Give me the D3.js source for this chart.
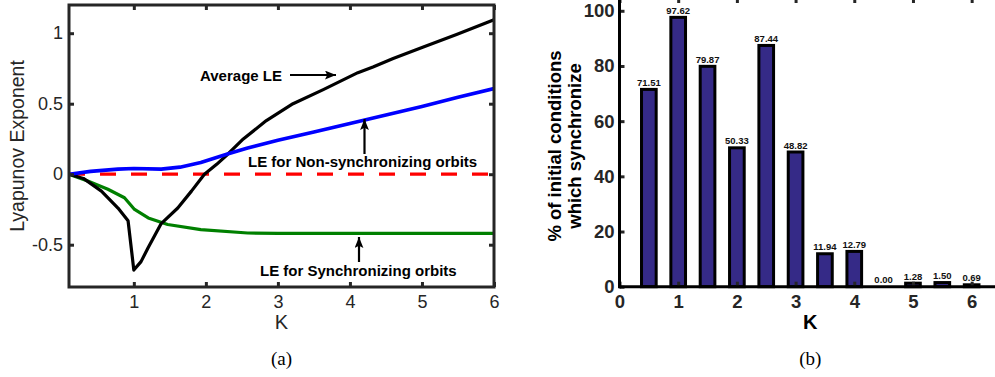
<!DOCTYPE html>
<html>
<head>
<meta charset="utf-8">
<script src="https://cdn.jsdelivr.net/npm/d3@7"></script>
<style>
  html, body { margin: 0; padding: 0; background: #fff; }
  svg { display: block; }
</style>
</head>
<body>
<svg id="fig" width="995" height="377"></svg>
<script>
// ---- Panel (a): Lyapunov exponents vs coupling K ----
const avgK   = [0.1, 0.3, 0.55, 0.78, 0.92, 1.0, 1.1, 1.2, 1.38, 1.61, 1.8, 1.98, 2.15, 2.3, 2.52, 2.84, 3.21, 3.63, 4.11, 4.32, 4.6, 5.01, 5.48, 6.0];
const avgLE  = [0, -0.03, -0.12, -0.24, -0.33, -0.68, -0.62, -0.52, -0.35, -0.24, -0.12, 0.0, 0.07, 0.14, 0.25, 0.38, 0.5, 0.6, 0.72, 0.76, 0.82, 0.9, 0.99, 1.095];
const nonSyncK  = [0.1, 0.4, 0.78, 1.0, 1.38, 1.64, 1.93, 2.3, 2.58, 3.0, 3.5, 4.0, 4.5, 5.0, 5.5, 6.0];
const nonSyncLE = [0, 0.02, 0.036, 0.04, 0.036, 0.05, 0.083, 0.143, 0.186, 0.24, 0.30, 0.36, 0.42, 0.48, 0.545, 0.607];
const syncK  = [0.1, 0.36, 0.64, 0.87, 1.01, 1.2, 1.47, 1.93, 2.58, 3.0, 4.0, 5.0, 6.0];
const syncLE = [0, -0.048, -0.107, -0.167, -0.25, -0.31, -0.357, -0.393, -0.417, -0.42, -0.42, -0.42, -0.42];
const leXTicks = [1, 2, 3, 4, 5, 6];
const leYTicks = [-0.5, 0, 0.5, 1];

// ---- Panel (b): share of initial conditions that synchronize ----
const barK      = [0.5, 1, 1.5, 2, 2.5, 3, 3.5, 4, 4.5, 5, 5.5, 6];
const barPct    = [71.51, 97.62, 79.87, 50.33, 87.44, 48.82, 11.94, 12.79, 0.00, 1.28, 1.50, 0.69];
const pctXTicks = [0, 1, 2, 3, 4, 5, 6];
const pctYTicks = [0, 20, 40, 60, 80, 100];

const axisColor = "#262626";
const sans = "'Liberation Sans', Arial, Helvetica, sans-serif";
const serif = "'Liberation Serif', 'DejaVu Serif', serif";

const svg = d3.select("#fig");
const defs = svg.append("defs");
defs.append("marker")
  .attr("id", "arrowhead")
  .attr("viewBox", "0 0 10 8")
  .attr("refX", 10).attr("refY", 4)
  .attr("markerUnits", "userSpaceOnUse")
  .attr("markerWidth", 11).attr("markerHeight", 9)
  .attr("orient", "auto")
  .append("path").attr("d", "M0,0 L10,4 L0,8 L2,4 Z").attr("fill", "#000");

// ================= Panel (a) =================
const A = { left: 69, right: 494, top: 5, bottom: 287 };
const xA = d3.scaleLinear().domain([0.1, 6]).range([A.left, A.right]);
const yA = d3.scaleLinear().domain([-0.8, 1.2]).range([A.bottom, A.top]);

defs.append("clipPath").attr("id", "clipA")
  .append("rect").attr("x", A.left).attr("y", A.top)
  .attr("width", A.right - A.left).attr("height", A.bottom - A.top);

const gA = svg.append("g");
const plotA = gA.append("g").attr("clip-path", "url(#clipA)");

// zero reference
plotA.append("line")
  .attr("x1", xA(0.1)).attr("x2", xA(6))
  .attr("y1", yA(0)).attr("y2", yA(0))
  .attr("stroke", "#ff0000").attr("stroke-width", 3.2)
  .attr("stroke-dasharray", "16,15");

const lineA = (ks, vs) => d3.line().x((d, i) => xA(ks[i])).y(d => yA(d))(vs);

plotA.append("path").attr("d", lineA(syncK, syncLE))
  .attr("fill", "none").attr("stroke", "#008000").attr("stroke-width", 3.2).attr("stroke-linejoin", "round");
plotA.append("path").attr("d", lineA(avgK, avgLE))
  .attr("fill", "none").attr("stroke", "#000").attr("stroke-width", 3.2).attr("stroke-linejoin", "round");
plotA.append("path").attr("d", lineA(nonSyncK, nonSyncLE))
  .attr("fill", "none").attr("stroke", "#0000ff").attr("stroke-width", 3.6).attr("stroke-linejoin", "round");

// axes with inward ticks on all four sides
function styleAxis(g, fontWeight, fontSize) {
  g.select(".domain").remove();
  g.selectAll(".tick line").attr("stroke", axisColor).attr("stroke-width", 3);
  g.selectAll(".tick text").attr("fill", axisColor)
    .attr("font-family", sans).attr("font-size", fontSize).attr("font-weight", fontWeight);
}
gA.append("g").attr("transform", `translate(0,${A.bottom})`)
  .call(d3.axisBottom(xA).tickValues(leXTicks).tickSize(-5).tickPadding(8).tickFormat(d => String(d)))
  .call(g => styleAxis(g, "normal", 18));
gA.append("g").attr("transform", `translate(0,${A.top})`)
  .call(d3.axisTop(xA).tickValues(leXTicks).tickSize(-5).tickFormat(""))
  .call(g => styleAxis(g, "normal", 18));
gA.append("g").attr("transform", `translate(${A.left},0)`)
  .call(d3.axisLeft(yA).tickValues(leYTicks).tickSize(-5).tickPadding(6).tickFormat(d => String(d)))
  .call(g => styleAxis(g, "normal", 18));
gA.append("g").attr("transform", `translate(${A.right},0)`)
  .call(d3.axisRight(yA).tickValues(leYTicks).tickSize(-5).tickFormat(""))
  .call(g => styleAxis(g, "normal", 18));
gA.append("rect")
  .attr("x", A.left).attr("y", A.top)
  .attr("width", A.right - A.left).attr("height", A.bottom - A.top)
  .attr("fill", "none").attr("stroke", axisColor).attr("stroke-width", 3);

gA.append("text").text("K")
  .attr("x", (A.left + A.right) / 2).attr("y", 329)
  .attr("text-anchor", "middle").attr("font-family", sans).attr("font-size", 20).attr("fill", axisColor);
gA.append("text").text("Lyapunov Exponent")
  .attr("transform", `translate(24,${(A.top + A.bottom) / 2}) rotate(-90)`)
  .attr("text-anchor", "middle").attr("font-family", sans).attr("font-size", 19.5).attr("fill", axisColor);
gA.append("text").text("(a)")
  .attr("x", (A.left + A.right) / 2).attr("y", 365)
  .attr("text-anchor", "middle").attr("font-family", serif).attr("font-size", 19).attr("fill", "#000");

// annotations
const note = (txt, x, y) => gA.append("text").text(txt)
  .attr("x", x).attr("y", y).attr("font-family", sans).attr("font-weight", "bold")
  .attr("font-size", 15).attr("fill", "#000");
const arrow = (x1, y1, x2, y2) => gA.append("line")
  .attr("x1", x1).attr("y1", y1).attr("x2", x2).attr("y2", y2)
  .attr("stroke", "#000").attr("stroke-width", 2.2).attr("marker-end", "url(#arrowhead)");

note("Average LE", 200, 80.5);
arrow(290, 75, 336, 75);
note("LE for Non-synchronizing orbits", 248, 167);
arrow(364.5, 154, 364.5, 119);
note("LE for Synchronizing orbits", 260, 276);
arrow(359, 262, 359, 237);

// ================= Panel (b) =================
const B = { left: 619.5, right: 1001, top: -3, bottom: 286.7 };
const xB = d3.scaleLinear().domain([0, 6.5]).range([B.left, B.right]);
const yB = d3.scaleLinear().domain([0, 105]).range([B.bottom, B.top]);
const gB = svg.append("g");
const barW = xB(0.25) - xB(0);

gB.selectAll("rect.bar").data(barPct).join("rect")
  .attr("class", "bar")
  .attr("x", (d, i) => xB(barK[i]) - barW / 2)
  .attr("width", barW)
  .attr("y", d => yB(d))
  .attr("height", d => yB(0) - yB(d))
  .attr("fill", "#352a87").attr("stroke", "#000").attr("stroke-width", 3);

gB.selectAll("text.val").data(barPct).join("text")
  .attr("class", "val")
  .text(d => d.toFixed(2))
  .attr("x", (d, i) => xB(barK[i]))
  .attr("y", d => yB(d) - 3.5)
  .attr("text-anchor", "middle").attr("font-family", sans).attr("font-weight", "bold")
  .attr("font-size", 9.5).attr("fill", "#111");

gB.append("g").attr("transform", `translate(0,${B.bottom})`)
  .call(d3.axisBottom(xB).tickValues(pctXTicks).tickSize(-5).tickPadding(8).tickFormat(d3.format("d")))
  .call(g => styleAxis(g, "bold", 18.5));
gB.append("g").attr("transform", `translate(0,${B.top})`)
  .call(d3.axisTop(xB).tickValues(pctXTicks).tickSize(-6).tickFormat(""))
  .call(g => styleAxis(g, "bold", 18.5));
gB.append("g").attr("transform", `translate(${B.left},0)`)
  .call(d3.axisLeft(yB).tickValues(pctYTicks).tickSize(-5).tickPadding(5).tickFormat(d3.format("d")))
  .call(g => styleAxis(g, "bold", 18.5));
gB.append("line")
  .attr("x1", B.left).attr("x2", B.right).attr("y1", B.bottom).attr("y2", B.bottom)
  .attr("stroke", "#000").attr("stroke-width", 3);
gB.append("line")
  .attr("x1", B.left).attr("x2", B.right).attr("y1", B.top).attr("y2", B.top)
  .attr("stroke", "#000").attr("stroke-width", 3);
gB.append("line")
  .attr("x1", B.left).attr("x2", B.left).attr("y1", B.top).attr("y2", B.bottom + 1.5)
  .attr("stroke", "#000").attr("stroke-width", 3);

gB.append("text").text("K")
  .attr("x", xB(3.25)).attr("y", 329)
  .attr("text-anchor", "middle").attr("font-family", sans).attr("font-weight", "bold")
  .attr("font-size", 20).attr("fill", "#000");
const yLab = gB.append("text")
  .attr("transform", `translate(555,${146}) rotate(-90)`)
  .attr("text-anchor", "middle").attr("font-family", sans).attr("font-weight", "bold")
  .attr("font-size", 18.5).attr("fill", "#000");
yLab.append("tspan").attr("x", 0).attr("dy", "0.35em").text("% of initial conditions");
yLab.append("tspan").attr("x", 0).attr("dy", "1.08em").text("which synchronize");
gB.append("text").text("(b)")
  .attr("x", xB(3.25)).attr("y", 365)
  .attr("text-anchor", "middle").attr("font-family", serif).attr("font-size", 19).attr("fill", "#000");
</script>
</body>
</html>
